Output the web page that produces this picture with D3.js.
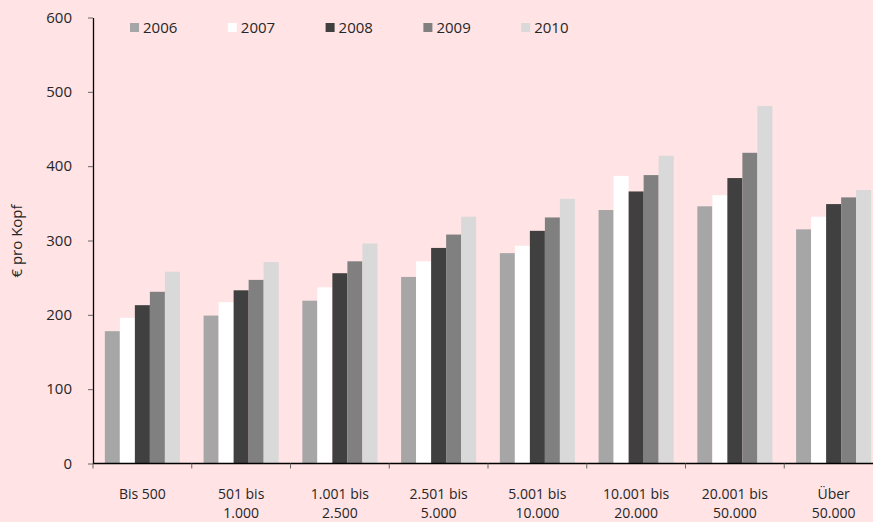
<!DOCTYPE html>
<html>
<head>
<meta charset="utf-8">
<script src="https://cdn.jsdelivr.net/npm/d3@7"></script>
<style>
  html, body { margin: 0; padding: 0; background: #ffe3e5; }
  svg { display: block; }
  text { font-family: "Open Sans", "DejaVu Sans", sans-serif; fill: #262626; }
</style>
</head>
<body>
<svg id="chart" width="873" height="522"></svg>
<script>
// Gemeindegrößenklassen (Einwohner)
const categories = [
  ["Bis 500"],
  ["501 bis", "1.000"],
  ["1.001 bis", "2.500"],
  ["2.501 bis", "5.000"],
  ["5.001 bis", "10.000"],
  ["10.001 bis", "20.000"],
  ["20.001 bis", "50.000"],
  ["Über", "50.000"]
];
const years = ["2006", "2007", "2008", "2009", "2010"];

// € pro Kopf je Jahr, in der Reihenfolge der Größenklassen
const v2006 = [178, 199, 219, 251, 283, 341, 346, 315];
const v2007 = [196, 217, 237, 272, 293, 387, 361, 332];
const v2008 = [213, 233, 256, 290, 313, 366, 384, 349];
const v2009 = [231, 247, 272, 308, 331, 388, 418, 358];
const v2010 = [258, 271, 296, 332, 356, 414, 481, 368];
const series = [v2006, v2007, v2008, v2009, v2010];

const yTicks = [0, 100, 200, 300, 400, 500, 600];
const colors = ["#a6a6a6", "#ffffff", "#404040", "#808080", "#d9d9d9"];

const svg = d3.select("#chart");
const plotLeft = 93, plotRight = 883, plotTop = 17.5, plotBottom = 463.5;

const catKeys = categories.map(c => c.join(" "));
const x0 = d3.scaleBand().domain(catKeys).range([plotLeft, plotRight]).padding(0);
const bw = x0.bandwidth();
const x1 = d3.scaleBand().domain(years).range([bw * 0.12, bw * 0.88]).padding(0);
const y = d3.scaleLinear().domain([0, 600]).range([plotBottom, plotTop]);

// Balken
const groups = svg.append("g").selectAll("g")
  .data(catKeys)
  .join("g")
  .attr("transform", d => `translate(${x0(d)},0)`);

groups.selectAll("rect")
  .data((d, i) => years.map((yr, j) => ({ yr, j, v: series[j][i] })))
  .join("rect")
  .attr("x", d => x1(d.yr))
  .attr("width", x1.bandwidth())
  .attr("y", d => y(d.v))
  .attr("height", d => y(0) - y(d.v))
  .attr("fill", d => colors[d.j]);

// Y-Achse
const yAxis = svg.append("g")
  .attr("transform", `translate(${plotLeft},0)`)
  .call(d3.axisLeft(y).tickValues(yTicks).tickSize(5).tickPadding(16).tickSizeOuter(0));
yAxis.select(".domain").attr("stroke", "#000").attr("stroke-width", 1.3);
yAxis.selectAll(".tick line").attr("stroke", "#666");
yAxis.selectAll(".tick text").style("font-size", "15px").attr("fill", "#262626")
  .style("font-family", "'Open Sans', 'DejaVu Sans', sans-serif");

// X-Achse: Linie und Trennstriche an den Klassengrenzen
const xAxis = svg.append("g").attr("transform", `translate(0,${plotBottom})`);
xAxis.append("line")
  .attr("x1", plotLeft).attr("x2", plotRight)
  .attr("stroke", "#000").attr("stroke-width", 1.5);
const bounds = catKeys.map(k => x0(k)).concat([x0(catKeys[catKeys.length - 1]) + bw]);
xAxis.selectAll("line.sep")
  .data(bounds)
  .join("line")
  .attr("class", "sep")
  .attr("x1", d => d).attr("x2", d => d)
  .attr("y1", 0).attr("y2", 5)
  .attr("stroke", "#666");

// Beschriftung der Größenklassen
const labels = svg.append("g").selectAll("text")
  .data(categories)
  .join("text")
  .attr("text-anchor", "middle")
  .style("font-size", "14px")
  .attr("transform", (d, i) => `translate(${x0(catKeys[i]) + bw / 2},499)`);
labels.selectAll("tspan")
  .data(d => d)
  .join("tspan")
  .attr("x", 0)
  .attr("y", (d, i) => i * 19)
  .text(d => d);

// Achsentitel
svg.append("text")
  .attr("transform", "translate(22,241) rotate(-90)")
  .attr("text-anchor", "middle")
  .style("font-size", "15px")
  .text("€ pro Kopf");

// Legende
const legend = svg.append("g").selectAll("g")
  .data(years)
  .join("g")
  .attr("transform", (d, i) => `translate(${130 + i * 97.8},0)`);
legend.append("rect")
  .attr("x", 0).attr("y", 23)
  .attr("width", 9).attr("height", 9)
  .attr("fill", (d, i) => colors[i]);
legend.append("text")
  .attr("x", 13).attr("y", 33)
  .style("font-size", "15px")
  .text(d => d);
</script>
</body>
</html>
